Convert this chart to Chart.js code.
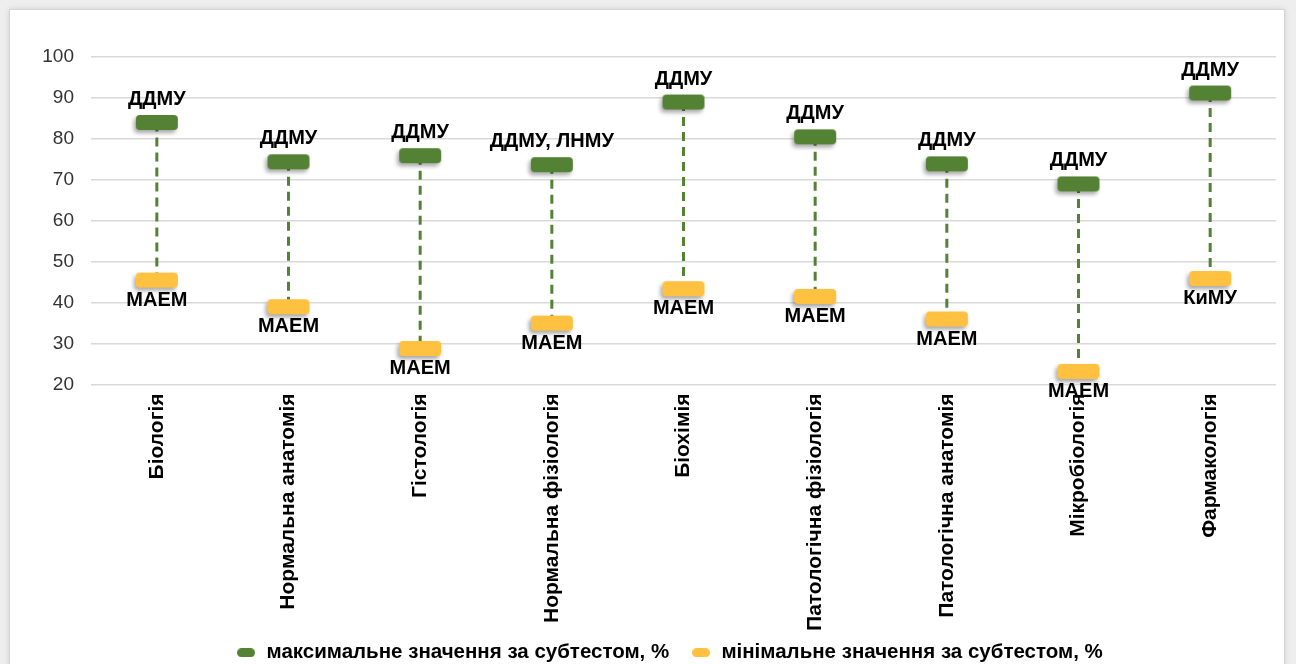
<!DOCTYPE html>
<html>
<head>
<meta charset="utf-8">
<script src="https://cdn.jsdelivr.net/npm/chart.js@4.4.1/dist/chart.umd.min.js"></script>
<style>
  body { margin: 0; background: #eeeeee; overflow: hidden; }
  .card {
    position: absolute; left: 9px; top: 9px; width: 1274px; height: 670px;
    background: #fff; border: 1px solid #d4d4d4; box-shadow: 0 0 6px rgba(0,0,0,0.12);
  }
  .placeForChart { position: absolute; left: 0; top: 0; width: 1274px; height: 667px; }
</style>
</head>
<body>
<div class="card"><div class="placeForChart"><canvas id="chart"></canvas></div></div>
<script>
let subjects = ['Біологія', 'Нормальна анатомія', 'Гістологія', 'Нормальна фізіологія', 'Біохімія',
    'Патологічна фізіологія', 'Патологічна анатомія', 'Мікробіологія', 'Фармакологія'];
let maxValues = [84, 74.4, 75.9, 73.7, 89, 80.5, 73.9, 69, 91.2];
let minValues = [45.5, 39, 28.8, 35, 43.4, 41.5, 36, 23.2, 45.9];
let maxLabels = ['ДДМУ', 'ДДМУ', 'ДДМУ', 'ДДМУ, ЛНМУ', 'ДДМУ', 'ДДМУ', 'ДДМУ', 'ДДМУ', 'ДДМУ'];
let minLabels = ['МАЕМ', 'МАЕМ', 'МАЕМ', 'МАЕМ', 'МАЕМ', 'МАЕМ', 'МАЕМ', 'МАЕМ', 'КиМУ'];

const green = '#548235';
const yellow = '#ffc13f';
const font = 'Arial, "Liberation Sans", sans-serif';

// marker as small canvas: wide rounded bar with shadow
function makeMarker(color, w, h) {
    let c = document.createElement('canvas');
    c.width = w + 14; c.height = h + 14;
    let g = c.getContext('2d');
    g.shadowColor = 'rgba(0,0,0,0.35)';
    g.shadowBlur = 4;
    g.shadowOffsetX = -2;
    g.shadowOffsetY = 3;
    g.fillStyle = color;
    g.beginPath();
    g.roundRect(7, 7, w, h, 4);
    g.fill();
    return c;
}
function makeLegendMarker(color) {
    let c = document.createElement('canvas');
    c.width = 18; c.height = 9;
    let g = c.getContext('2d');
    g.fillStyle = color;
    g.beginPath();
    g.roundRect(0, 0, 18, 9, 4.5);
    g.fill();
    return c;
}

let greenMarker = makeMarker(green, 42, 15);
let yellowMarker = makeMarker(yellow, 42, 15);

const connectors = {
    id: 'connectors',
    beforeDatasetsDraw(chart) {
        let ctx = chart.ctx;
        let top = chart.getDatasetMeta(0).data;
        let bot = chart.getDatasetMeta(1).data;
        ctx.save();
        ctx.strokeStyle = green;
        ctx.lineWidth = 3;
        ctx.setLineDash([9, 6]);
        for (let i = 0; i < top.length; i++) {
            ctx.beginPath();
            ctx.moveTo(top[i].x, top[i].y);
            ctx.lineTo(bot[i].x, bot[i].y);
            ctx.stroke();
        }
        ctx.restore();
    },
    afterDatasetsDraw(chart) {
        let ctx = chart.ctx;
        let top = chart.getDatasetMeta(0).data;
        let bot = chart.getDatasetMeta(1).data;
        ctx.save();
        ctx.font = 'bold 20px ' + font;
        ctx.fillStyle = '#000';
        ctx.textAlign = 'center';
        ctx.textBaseline = 'middle';
        for (let i = 0; i < top.length; i++) {
            ctx.fillText(maxLabels[i], top[i].x, top[i].y - 23);
            ctx.fillText(minLabels[i], bot[i].x, bot[i].y + 20);
        }
        ctx.restore();
    }
};

let ctx = document.getElementById('chart');
let myChart = new Chart(ctx, {
    type: 'line',
    data: {
        labels: subjects,
        datasets: [{
            label: 'максимальне значення за субтестом, %',
            data: maxValues,
            showLine: false,
            pointStyle: greenMarker,
            backgroundColor: green,
            borderColor: green
        },
        {
            label: 'мінімальне значення за субтестом, %',
            data: minValues,
            showLine: false,
            pointStyle: yellowMarker,
            backgroundColor: yellow,
            borderColor: yellow
        }]
    },
    options: {
        responsive: true,
        maintainAspectRatio: false,
        animation: false,
        layout: { padding: { top: 47, right: 8, left: 0, bottom: 4 } },
        scales: {
            x: {
                offset: true,
                grid: { display: false },
                border: { display: false },
                ticks: {
                    color: '#000',
                    font: { family: font, size: 21, weight: 'bold' },
                    minRotation: 90,
                    maxRotation: 90,
                    padding: 1
                },
                afterFit(axis) { axis.height = 248; }
            },
            y: {
                min: 20,
                max: 100,
                ticks: {
                    stepSize: 10,
                    color: '#333',
                    padding: 17,
                    font: { family: font, size: 19 }
                },
                grid: { color: '#d9d9d9', lineWidth: 1.5, drawTicks: false },
                border: { display: false },
                afterFit(axis) { axis.width = 81; }
            }
        },
        plugins: {
            legend: {
                position: 'bottom',
                fullSize: false,
                labels: {
                    usePointStyle: true,
                    generateLabels(chart) {
                        return chart.data.datasets.map((d, i) => ({
                            // extra spaces keep the gap between the items and shift the row a bit left
                            text: i == 0 ? d.label + '  ' : d.label + '     ',
                            fillStyle: d.backgroundColor,
                            strokeStyle: d.backgroundColor,
                            pointStyle: makeLegendMarker(d.backgroundColor),
                            datasetIndex: i,
                            hidden: false,
                            fontColor: '#000'
                        }));
                    },
                    color: '#000',
                    padding: 10,
                    font: { family: font, size: 20.5, weight: 'bold' }
                }
            },
            tooltip: { enabled: false }
        }
    },
    plugins: [connectors]
});
</script>
</body>
</html>
